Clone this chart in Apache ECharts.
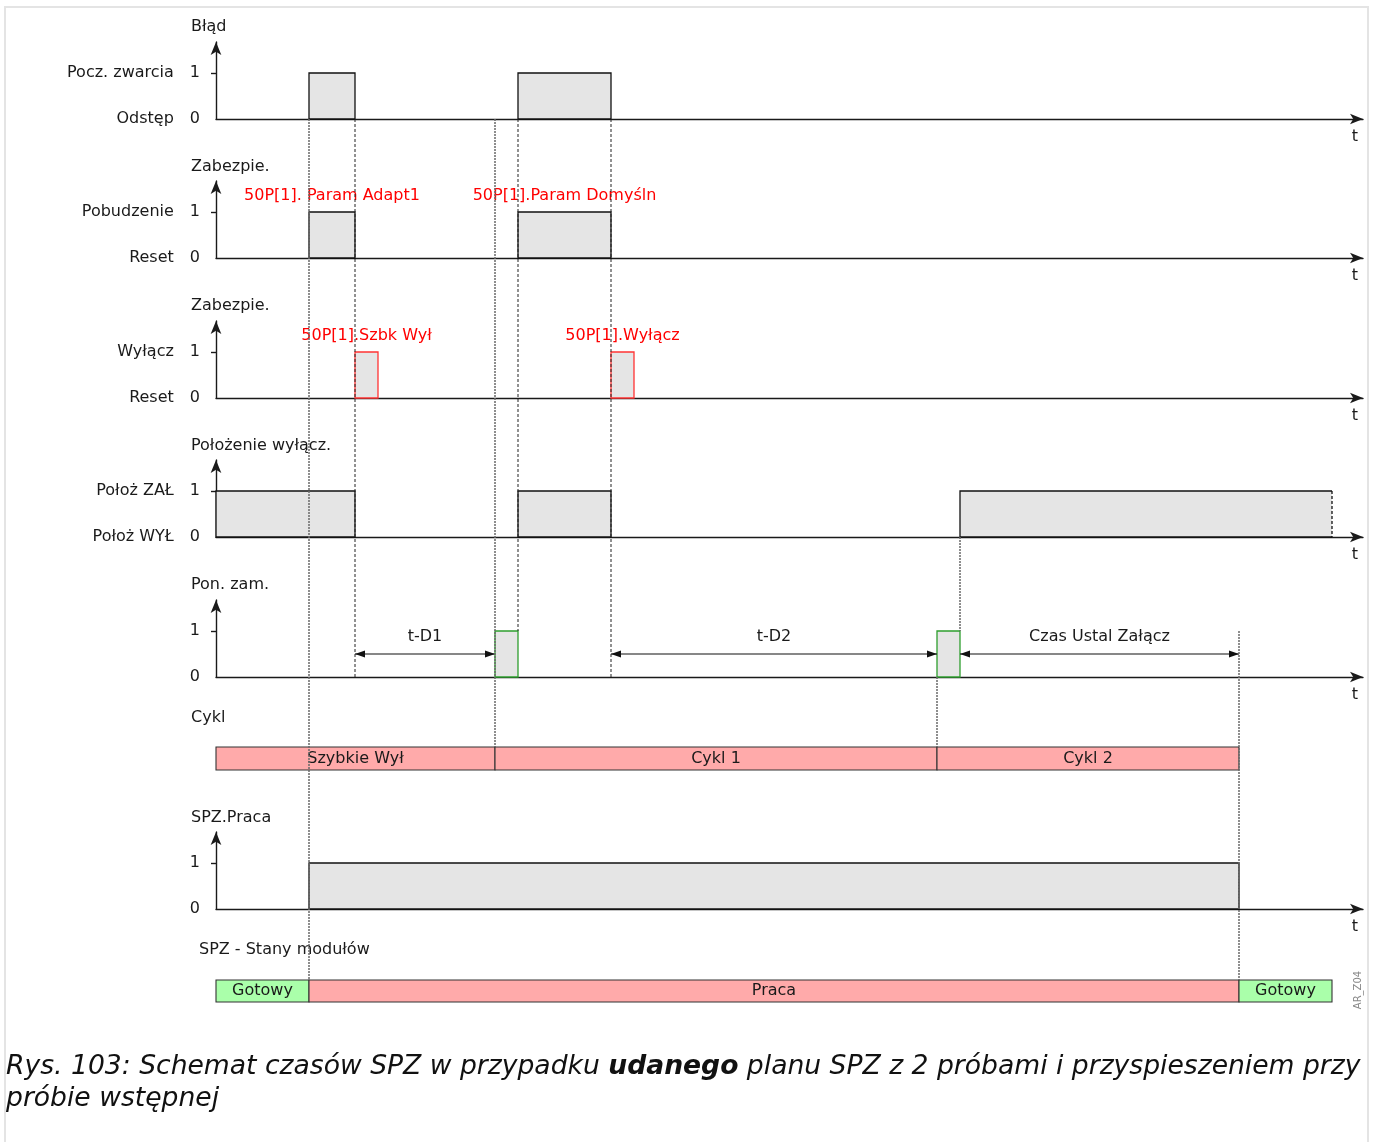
<!DOCTYPE html>
<html>
<head>
<meta charset="utf-8">
<script src="https://cdn.jsdelivr.net/npm/echarts@6/dist/echarts.min.js"></script>
<style>
  html, body { margin: 0; padding: 0; background: #fff; }
  #chart { width: 1377px; height: 1142px; }
</style>
</head>
<body>
<div id="chart"></div>
<script>
// time runs in arbitrary units from the vertical axes
const tMax = 1147;

const rowTitles = ['Błąd', 'Zabezpie.', 'Zabezpie.', 'Położenie wyłącz.', 'Pon. zam.', 'Cykl', 'SPZ.Praca', 'SPZ - Stany modułów'];
const levelNames = [
  ['Odstęp', 'Pocz. zwarcia'],
  ['Reset', 'Pobudzenie'],
  ['Reset', 'Wyłącz'],
  ['Położ WYŁ', 'Położ ZAŁ'],
  ['', ''],
  null,
  ['', ''],
  null
];

const faultPulses = [[93, 139], [302, 395]];
const pickupPulses = [[93, 139, '50P[1]. Param Adapt1'], [302, 395, '50P[1].Param Domyśln']];
const tripPulses = [[139, 162, '50P[1].Szbk Wył'], [395, 418, '50P[1].Wyłącz']];
const breakerPulses = [[0, 139], [302, 395], [744, 1116]];
const closePulses = [[279, 302], [721, 744]];
const timeSpans = [[139, 279, 't-D1'], [395, 721, 't-D2'], [744, 1023, 'Czas Ustal Załącz']];
const cycleStates = [[0, 279, 'Szybkie Wył'], [279, 721, 'Cykl 1'], [721, 1023, 'Cykl 2']];
const arRunning = [[93, 1023]];
const moduleStates = [[0, 93, 'Gotowy'], [93, 1023, 'Praca'], [1023, 1116, 'Gotowy']];

// [time, fromRow, fromLevel, toRow, toLevel]
const blackGuides = [[139, 0, 0, 4, 0], [302, 0, 0, 4, 1], [395, 0, 0, 4, 0]];
const greyGuides = [[93, 0, 0, 7, 1], [279, 0, 0, 5, 1], [721, 4, 0, 5, 1], [744, 3, 0, 4, 1], [1023, 4, 1, 7, 1]];

// layout (pixels)
const levelTop = [73, 212, 352, 491, 631, 747, 863, 980];
const levelH = [46, 46, 46, 46, 46, 23, 46, 22];
const titleY = [27, 167, 306, 446, 585, 718, 818, 950];
const titleX = [191, 191, 191, 191, 191, 191, 191, 199];
const arrowRoom = 31;

const FONT = 'DejaVu Sans';
const FS = 16;
const ink = '#1a1a1a';
const pulseFill = '#e5e5e5';
const stateColor = { 'Gotowy': '#aaffaa' };
const pink = '#ffaaaa';
const axisStyle = { color: '#1a1a1a', width: 1.4 };

const hasAxis = i => levelNames[i] !== null;

const grids = levelTop.map((top, i) => hasAxis(i)
  ? { left: 216, right: 14, top: top - arrowRoom, height: levelH[i] + arrowRoom }
  : { left: 216, right: 14, top: top, height: levelH[i] });

const xAxes = levelTop.map((_, i) => ({
  gridIndex: i,
  type: 'value',
  min: 0,
  max: tMax,
  show: hasAxis(i),
  name: 't',
  nameLocation: 'end',
  nameGap: -8,
  nameTextStyle: { align: 'center', verticalAlign: 'top', padding: [10, 0, 0, 0], fontSize: FS, color: ink },
  axisLine: { show: true, symbol: ['none', 'arrow'], symbolSize: [8, 13], lineStyle: axisStyle },
  axisTick: { show: false },
  axisLabel: { show: false },
  splitLine: { show: false }
}));

const yAxes = levelTop.map((_, i) => hasAxis(i) ? {
  gridIndex: i,
  type: 'value',
  min: 0,
  max: (levelH[i] + arrowRoom) / levelH[i],
  axisLine: { show: true, onZero: false, symbol: ['none', 'arrow'], symbolSize: [8, 13], lineStyle: axisStyle },
  axisTick: { show: true, length: 5, customValues: [1], lineStyle: axisStyle },
  axisLabel: {
    customValues: [0, 1],
    margin: 16,
    formatter: v => (levelNames[i][v] ? '{n|' + levelNames[i][v] + '}' : '') + '{v|' + v + '}',
    rich: {
      n: { fontSize: FS, color: ink, fontFamily: FONT },
      v: { fontSize: FS, color: ink, fontFamily: FONT, padding: [0, 0, 0, 16] }
    }
  },
  splitLine: { show: false }
} : { gridIndex: i, type: 'value', min: 0, max: 1, show: false });

function pulseSeries(row, pulses, stroke, openEnd) {
  return {
    type: 'custom',
    xAxisIndex: row,
    yAxisIndex: row,
    clip: false,
    z: 3,
    data: pulses.map(p => [p[0], p[1]]),
    encode: { x: [0, 1] },
    renderItem: (params, api) => {
      const p = pulses[params.dataIndex];
      const a = api.coord([p[0], 0]);
      const b = api.coord([p[1], 1]);
      const children = [];
      const open = openEnd && params.dataIndex === pulses.length - 1;
      children.push({
        type: 'rect',
        shape: { x: a[0], y: b[1], width: b[0] - a[0], height: a[1] - b[1] },
        style: { fill: pulseFill, stroke: open ? null : stroke, lineWidth: 1.3 }
      });
      if (open) {
        children.push({ type: 'polyline', shape: { points: [[b[0], a[1]], [a[0], a[1]], [a[0], b[1]], [b[0], b[1]]] }, style: { fill: null, stroke: stroke, lineWidth: 1.3 } });
        children.push({ type: 'line', shape: { x1: b[0], y1: b[1], x2: b[0], y2: a[1] }, style: { stroke: stroke, lineWidth: 1.3, lineDash: [3, 2] } });
      }
      if (p[2]) {
        children.push({
          type: 'text',
          style: { text: p[2], x: (a[0] + b[0]) / 2, y: b[1] - 16, align: 'center', verticalAlign: 'middle', fill: '#ff0000', font: FS + 'px "' + FONT + '"' }
        });
      }
      return { type: 'group', children };
    }
  };
}

function stateSeries(row, states) {
  return {
    type: 'custom',
    xAxisIndex: row,
    yAxisIndex: row,
    clip: false,
    z: 3,
    data: states.map(s => [s[0], s[1]]),
    encode: { x: [0, 1] },
    renderItem: (params, api) => {
      const s = states[params.dataIndex];
      const a = api.coord([s[0], 0]);
      const b = api.coord([s[1], 1]);
      return {
        type: 'group',
        children: [
          { type: 'rect', shape: { x: a[0], y: b[1], width: b[0] - a[0], height: a[1] - b[1] },
            style: { fill: stateColor[s[2]] || pink, stroke: '#333', lineWidth: 1.1 } },
          { type: 'text', style: { text: s[2], x: (a[0] + b[0]) / 2, y: (a[1] + b[1]) / 2, align: 'center', verticalAlign: 'middle', fill: ink, font: FS + 'px "' + FONT + '"' } }
        ]
      };
    }
  };
}

const spanSeries = {
  type: 'custom',
  xAxisIndex: 4,
  yAxisIndex: 4,
  clip: false,
  z: 4,
  data: timeSpans.map(s => [s[0], s[1]]),
  encode: { x: [0, 1] },
  renderItem: (params, api) => {
    const s = timeSpans[params.dataIndex];
    const a = api.coord([s[0], 0.5]);
    const b = api.coord([s[1], 0.5]);
    const y = a[1];
    return {
      type: 'group',
      children: [
        { type: 'line', shape: { x1: a[0], y1: y, x2: b[0], y2: y }, style: { stroke: '#111', lineWidth: 1.2 } },
        { type: 'polygon', shape: { points: [[a[0], y], [a[0] + 10, y - 3.5], [a[0] + 10, y + 3.5]] }, style: { fill: '#111' } },
        { type: 'polygon', shape: { points: [[b[0], y], [b[0] - 10, y - 3.5], [b[0] - 10, y + 3.5]] }, style: { fill: '#111' } },
        { type: 'text', style: { text: s[2], x: (a[0] + b[0]) / 2, y: y - 17, align: 'center', verticalAlign: 'middle', fill: ink, font: FS + 'px "' + FONT + '"' } }
      ]
    };
  }
};

const titleGraphics = rowTitles.map((t, i) => ({
  type: 'text', id: 'title' + i, x: titleX[i], y: titleY[i],
  style: { text: t, fill: ink, font: FS + 'px "' + FONT + '"', verticalAlign: 'middle' }
}));

const option = {
  animation: false,
  textStyle: { fontFamily: FONT },
  grid: grids,
  xAxis: xAxes,
  yAxis: yAxes,
  series: [
    pulseSeries(0, faultPulses, '#111', false),
    pulseSeries(1, pickupPulses, '#111', false),
    pulseSeries(2, tripPulses, '#ff3333', false),
    pulseSeries(3, breakerPulses, '#111', true),
    pulseSeries(4, closePulses, '#2e9e2e', false),
    spanSeries,
    stateSeries(5, cycleStates),
    pulseSeries(6, arRunning, '#111', false),
    stateSeries(7, moduleStates)
  ],
  graphic: titleGraphics.concat([
    { type: 'rect', id: 'frame', shape: { x: 5, y: 7, width: 1363, height: 1160 }, style: { fill: null, stroke: '#e4e4e4', lineWidth: 2 }, z: -1 },
    { type: 'text', id: 'code', x: 1358, y: 990, rotation: Math.PI / 2,
      style: { text: 'AR_Z04', fill: '#888', font: '10px "' + FONT + '"', align: 'center', verticalAlign: 'middle' } },
    { type: 'text', id: 'cap1', x: 6, y: 1067,
      style: {
        text: '{i|Rys. 103: Schemat czasów SPZ w przypadku }{b|udanego}{i| planu SPZ z 2 próbami i przyspieszeniem przy}',
        verticalAlign: 'middle',
        rich: {
          i: { fontFamily: FONT, fontStyle: 'italic', fontSize: 26.6, fill: '#111' },
          b: { fontFamily: FONT, fontStyle: 'italic', fontWeight: 'bold', fontSize: 26.6, fill: '#111' }
        }
      } },
    { type: 'text', id: 'cap2', x: 6, y: 1099,
      style: { text: 'próbie wstępnej', fill: '#111', font: 'italic 26.6px "' + FONT + '"', verticalAlign: 'middle' } }
  ])
};

const chart = echarts.init(document.getElementById('chart'));
chart.setOption(option);

// vertical guide lines across rows, placed through each row's own scales
function guideLines(list, color, width, dash, prefix) {
  return list.map((g, k) => {
    const p1 = chart.convertToPixel({ gridIndex: g[1] }, [g[0], g[2]]);
    const p2 = chart.convertToPixel({ gridIndex: g[3] }, [g[0], g[4]]);
    return {
      type: 'line', id: prefix + k, z: 10,
      shape: { x1: p1[0], y1: p1[1], x2: p2[0], y2: p2[1] },
      style: { stroke: color, lineWidth: width, lineDash: dash }
    };
  });
}
chart.setOption({
  graphic: guideLines(greyGuides, '#6a6a6a', 1.5, [2, 1], 'g').concat(guideLines(blackGuides, '#222', 1, [3, 2], 'b'))
});
</script>
</body>
</html>
